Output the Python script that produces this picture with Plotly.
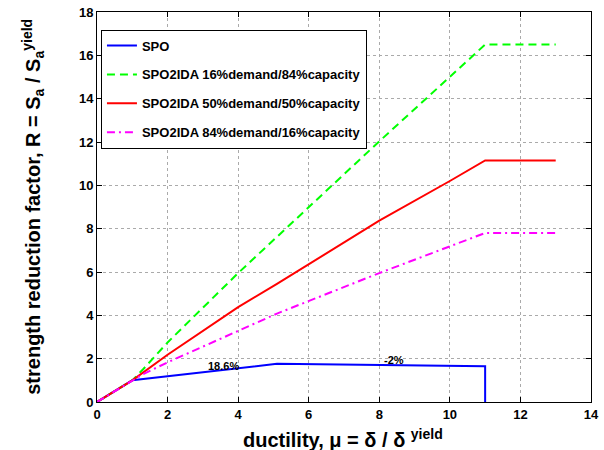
import plotly.graph_objects as go

# SPO (static pushover) curve
spo_mu = [0, 1, 5.1, 11, 11]
spo_R = [0, 1, 1.763, 1.645, 0]

# SPO2IDA 16% demand / 84% capacity
g_mu = [0, 1, 1.3, 2, 4, 5.3, 8, 9.7, 11, 13]
g_R = [0, 1, 1.5, 2.75, 5.95, 7.93, 12.03, 14.56, 16.5, 16.5]

# SPO2IDA 50% demand / 50% capacity
r_mu = [0, 1, 2, 4, 5.1, 8, 10, 11, 13]
r_R = [0, 1, 2.18, 4.38, 5.45, 8.37, 10.2, 11.15, 11.15]

# SPO2IDA 84% demand / 16% capacity
m_mu = [0, 1, 1.3, 2, 4, 5.1, 8, 10, 11, 13]
m_R = [0, 1, 1.28, 1.83, 3.26, 4.08, 5.95, 7.18, 7.8, 7.8]

names = ["SPO", "SPO2IDA 16%demand/84%capacity",
         "SPO2IDA 50%demand/50%capacity", "SPO2IDA 84%demand/16%capacity"]
ann_text = ["18.6%", "-2%"]
ann_mu = [3.58, 8.41]
ann_R = [1.64, 1.95]

x_ticks = [0, 2, 4, 6, 8, 10, 12, 14]
y_ticks = [0, 2, 4, 6, 8, 10, 12, 14, 16, 18]

x_title = "<b>ductility, μ = δ / δ <sup>yield</sup></b>"
y_title = "<b>strength reduction factor, R = S<sub>a</sub> / S<sub>a</sub><sup>yield</sup></b>"

FONT = "Arial, Liberation Sans, Helvetica, sans-serif"

fig = go.Figure()
fig.add_trace(go.Scatter(x=spo_mu, y=spo_R, mode="lines", name=names[0], legendgroup="a",
                         line=dict(color="#0000ff", width=2)))
fig.add_trace(go.Scatter(x=g_mu, y=g_R, mode="lines", name=names[1], legendgroup="b",
                         line=dict(color="#00ff00", width=2, dash="8px,5px")))
fig.add_trace(go.Scatter(x=r_mu, y=r_R, mode="lines", name=names[2], legendgroup="c",
                         line=dict(color="#ff0000", width=2)))
fig.add_trace(go.Scatter(x=m_mu, y=m_R, mode="lines", name=names[3], legendgroup="d",
                         line=dict(color="#ff00ff", width=2, dash="8px,4px,2px,4px")))

for t, xv, yv in zip(ann_text, ann_mu, ann_R):
    fig.add_annotation(x=xv, y=yv, text="<b>%s</b>" % t, showarrow=False,
                       font=dict(family=FONT, size=11, color="black"))

# axis titles as annotations for precise placement
fig.add_annotation(xref="paper", yref="paper", x=0.497, y=-0.094, xanchor="center", yanchor="middle",
                   text=x_title, showarrow=False,
                   font=dict(family=FONT, size=20, color="black"))
fig.add_annotation(xref="paper", yref="paper", x=-0.13, y=0.5, xanchor="center", yanchor="middle",
                   text=y_title, showarrow=False, textangle=-90,
                   font=dict(family=FONT, size=20, color="black"))

axis_common = dict(showline=True, linecolor="black", linewidth=1, mirror="ticks",
                   ticks="inside", ticklen=5, tickcolor="black",
                   showgrid=True, gridcolor="#aaaaaa", griddash="dot", gridwidth=1,
                   zeroline=False, automargin=False,
                   tickfont=dict(family=FONT, size=13, color="black", weight="bold"))

fig.update_xaxes(range=[0, 14], tickvals=x_ticks, ticktext=[str(v) for v in x_ticks],
                 **axis_common)
fig.update_yaxes(range=[0, 18], tickvals=y_ticks, ticktext=[str(v) for v in y_ticks],
                 **axis_common)

fig.update_layout(
    width=604, height=450,
    margin=dict(l=97, r=13, t=12, b=48),
    paper_bgcolor="white", plot_bgcolor="white",
    showlegend=True,
    legend=dict(x=0.008, y=0.955, xanchor="left", yanchor="top",
                bgcolor="white", bordercolor="black", borderwidth=1,
                font=dict(family=FONT, size=13, color="black", weight="bold"),
                tracegroupgap=9, itemwidth=30, traceorder="grouped"),
)

fig.write_html("out.html",
               config={"displayModeBar": False},
               post_script="document.body.style.margin='0';document.body.style.overflow='hidden';")
